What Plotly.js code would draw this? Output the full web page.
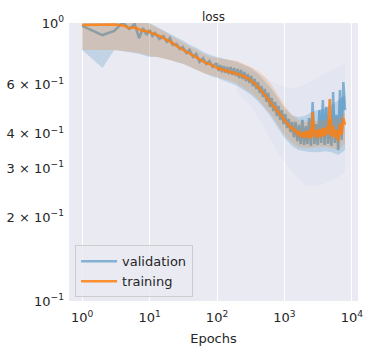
<!DOCTYPE html>
<html>
<head>
<meta charset="utf-8">
<script src="https://cdn.plot.ly/plotly-3.0.1.min.js"></script>
<style>html,body{margin:0;padding:0;background:#fff}#chart{width:367px;height:352px}</style>
</head>
<body>
<div id="chart"></div>
<script>
// ---- data ----
const epochs = [1,2,3,4,5,6,7,8,9,10,
  11,12,14,16,18,20,22,25,28,31,35,39,44,49,55,62,69,77,86,94,
  100,106,112,119,126,134,142,150,159,169,
  179,190,201,213,226,240,254,269,285,303,
  321,340,360,382,405,429,455,482,511,542,
  574,609,645,684,725,769,815,864,915,970,
  1028,1090,1156,1225,1299,1376,1459,1547,1639,1738,
  1842,1953,2070,2194,2325,2465,2613,2770,2936,3112,
  3299,3497,3706,3929,4165,4415,4679,4960,5258,5573,
  5908,6262,6638,7036,7458,7906];

const validationLoss = [0.976,0.905,0.936,1.005,0.951,0.992,0.883,0.959,0.905,0.944,
  0.898,0.920,0.876,0.898,0.855,0.883,0.833,0.840,0.806,0.820,
  0.780,0.800,0.755,0.774,0.724,0.748,0.712,0.730,0.695,0.712,
  0.712,0.672,0.706,0.666,0.700,0.661,0.695,0.655,0.695,0.650,
  0.689,0.645,0.683,0.634,0.678,0.629,0.666,0.618,0.655,0.608,
  0.645,0.593,0.629,0.579,0.613,0.560,0.593,0.542,0.579,0.520,
  0.560,0.499,0.537,0.482,0.520,0.463,0.503,0.448,0.486,0.433,
  0.470,0.419,0.452,0.405,0.441,0.389,0.441,0.376,0.430,0.367,
  0.448,0.364,0.426,0.367,0.455,0.361,0.520,0.367,0.433,0.364,
  0.486,0.370,0.528,0.364,0.499,0.367,0.448,0.361,0.564,0.370,
  0.467,0.349,0.574,0.380,0.613,0.486];

const trainingLoss = [0.984,0.985,0.988,0.980,0.960,0.963,0.950,0.936,0.935,0.928,
  0.920,0.912,0.898,0.883,0.869,0.855,0.847,0.826,0.813,0.800,
  0.787,0.774,0.761,0.748,0.736,0.724,0.718,0.712,0.700,0.695,
  0.689,0.683,0.686,0.678,0.681,0.672,0.675,0.666,0.669,0.661,
  0.664,0.655,0.658,0.650,0.650,0.642,0.645,0.634,0.634,0.624,
  0.621,0.611,0.608,0.596,0.588,0.577,0.572,0.558,0.553,0.537,
  0.533,0.518,0.513,0.499,0.497,0.482,0.480,0.467,0.463,0.448,
  0.446,0.433,0.431,0.419,0.422,0.409,0.412,0.399,0.405,0.389,
  0.405,0.386,0.409,0.386,0.412,0.383,0.478,0.389,0.412,0.386,
  0.416,0.389,0.419,0.392,0.422,0.396,0.533,0.392,0.426,0.386,
  0.412,0.376,0.433,0.396,0.455,0.430];

const bandEpochs = [1,2,3,4,5,6,7,8,10,13,
  16,20,25,32,40,50,63,80,100,130,
  160,200,250,320,400,500,630,800,1000,1300,
  1600,2000,2500,3200,4000,5000,6300,7906];

const validationHigh = [1.08,1.08,1.07,1.07,1.06,1.05,1.04,1.03,1.00,0.967,
  0.944,0.920,0.890,0.862,0.833,0.813,0.787,0.767,0.755,0.742,
  0.736,0.724,0.706,0.689,0.661,0.624,0.584,0.537,0.494,0.466,
  0.459,0.463,0.478,0.486,0.494,0.507,0.528,0.551];
const validationLow = [0.800,0.689,0.800,0.793,0.787,0.780,0.774,0.767,0.755,0.755,
  0.748,0.736,0.724,0.712,0.695,0.678,0.661,0.645,0.634,0.618,
  0.608,0.593,0.574,0.551,0.524,0.494,0.459,0.419,0.386,0.361,
  0.349,0.346,0.343,0.343,0.346,0.343,0.335,0.349];

const trainingHigh = [1.06,1.06,1.06,1.05,1.04,1.03,1.02,1.01,0.992,0.959,
  0.936,0.905,0.876,0.847,0.820,0.800,0.774,0.755,0.748,0.742,
  0.736,0.730,0.712,0.695,0.672,0.645,0.603,0.551,0.507,0.466,
  0.448,0.441,0.444,0.444,0.448,0.452,0.455,0.478];
const trainingLow = [0.800,0.800,0.800,0.793,0.787,0.787,0.780,0.774,0.761,0.755,
  0.748,0.736,0.724,0.712,0.695,0.678,0.661,0.650,0.640,0.629,
  0.618,0.603,0.584,0.560,0.533,0.503,0.470,0.430,0.396,0.370,
  0.358,0.355,0.355,0.358,0.358,0.355,0.349,0.370];

// faint outer spread of the validation runs (late epochs)
const spreadEpochs = [200,320,500,800,1300,2000,3200,5000,7906];
const spreadHigh = [0.70,0.67,0.64,0.60,0.58,0.60,0.64,0.68,0.72];
const spreadLow  = [0.56,0.50,0.42,0.34,0.29,0.26,0.26,0.27,0.29];

const xTickVals = [1,10,100,1000,10000];
const xTickText = ['10<sup>0</sup>','10<sup>1</sup>','10<sup>2</sup>','10<sup>3</sup>','10<sup>4</sup>'];
const yTickVals = [0.1,0.2,0.3,0.4,0.6,1];
const yTickText = ['10<sup>−1</sup>','2 × 10<sup>−1</sup>','3 × 10<sup>−1</sup>','4 × 10<sup>−1</sup>','6 × 10<sup>−1</sup>','10<sup>0</sup>'];

// ---- chart ----
const BLUE = '31,119,180', ORANGE = '255,127,14';
const band = (x, y, rgb, a, fill) => ({x, y, type:'scatter', mode:'lines', line:{width:0, color:'rgba('+rgb+',0)'},
  fill: fill ? 'tonexty' : 'none', fillcolor:'rgba('+rgb+','+a+')', showlegend:false, hoverinfo:'skip'});

const traces = [
  band(spreadEpochs, spreadLow, BLUE, 0.03, false),
  band(spreadEpochs, spreadHigh, BLUE, 0.03, true),
  band(bandEpochs, validationLow, BLUE, 0.2, false),
  band(bandEpochs, validationHigh, BLUE, 0.2, true),
  {x: epochs, y: validationLoss, type:'scatter', mode:'lines', name:'validation',
   line:{color:'rgba('+BLUE+',0.5)', width:2.5}},
  band(bandEpochs, trainingLow, ORANGE, 0.2, false),
  band(bandEpochs, trainingHigh, ORANGE, 0.2, true),
  {x: epochs, y: trainingLoss, type:'scatter', mode:'lines', name:'training',
   line:{color:'rgba('+ORANGE+',0.85)', width:2.5}}
];

const FONT = 'DejaVu Sans, sans-serif';
const layout = {
  width: 367, height: 352,
  margin: {l:69, r:9, t:23, b:51},
  paper_bgcolor: '#ffffff', plot_bgcolor: '#EAEAF2',
  font: {family: FONT, color: '#262626', size: 13},
  title: {text:'loss', font:{size:12, color:'#262626'}, x:0.5, xref:'paper', y:0.952, yref:'container', yanchor:'middle'},
  xaxis: {type:'log', range:[-0.195, 4.09], tickvals:xTickVals, ticktext:xTickText,
    showgrid:true, gridcolor:'#ffffff', gridwidth:1, zeroline:false, showline:false, ticks:'',
    tickfont:{size:13}, ticklabelstandoff:7,
    title:{text:'Epochs', font:{size:13}, standoff:9}},
  yaxis: {type:'log', range:[-1, 0], tickvals:yTickVals, ticktext:yTickText,
    showgrid:false, zeroline:false, showline:false, ticks:'', tickfont:{size:13}, ticklabelstandoff:4},
  legend: {x:0.021, y:0.2, xanchor:'left', yanchor:'top', bgcolor:'rgba(234,234,242,0.8)',
    bordercolor:'#cccccc', borderwidth:1, font:{size:13}, traceorder:'normal', tracegroupgap:0,
    itemwidth:36},
  showlegend: true
};

Plotly.newPlot('chart', traces, layout, {staticPlot:true, displayModeBar:false});
</script>
</body>
</html>
